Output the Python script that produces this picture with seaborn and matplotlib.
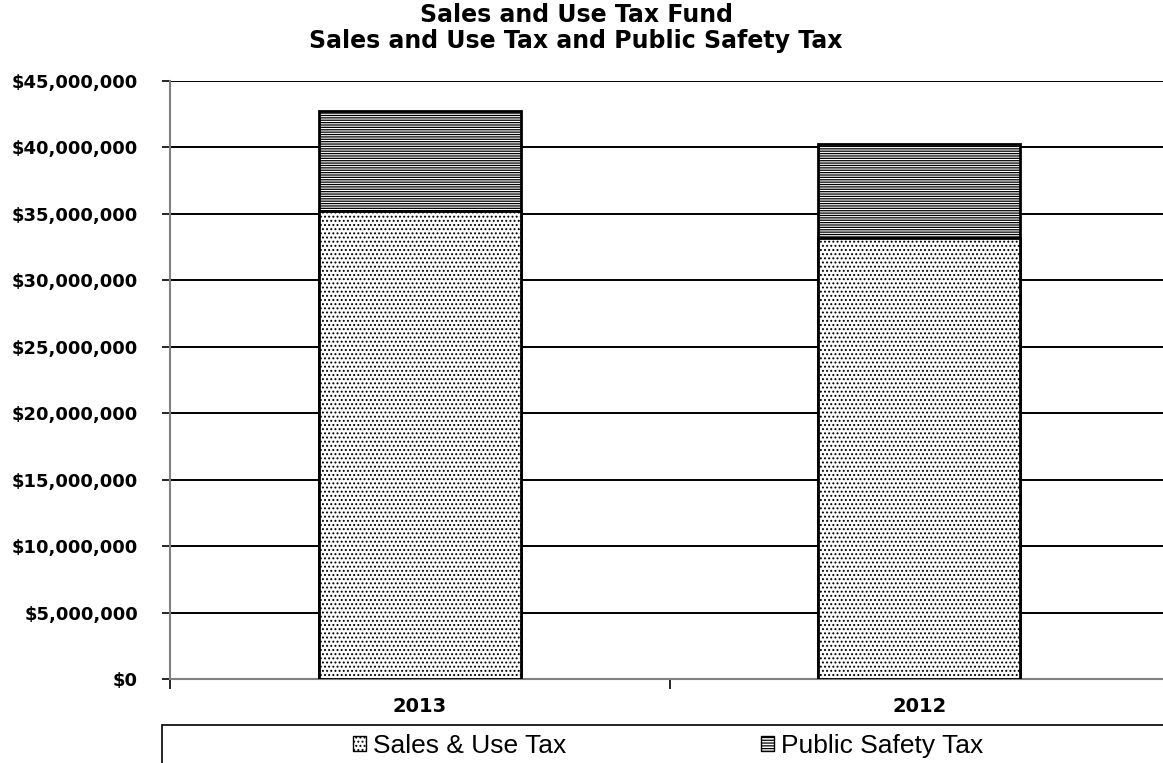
import matplotlib
matplotlib.use("Agg")
import matplotlib.pyplot as plt
import seaborn as sns
import pandas as pd
from matplotlib.patches import Rectangle, Patch
from matplotlib.ticker import FuncFormatter, MultipleLocator

years = ["2013", "2012"]
sales_use_tax = [35200000, 33150000]
public_safety_tax = [7550000, 7100000]
series_names = ["Sales & Use Tax", "Public Safety Tax"]
title_lines = ["Sales and Use Tax Fund", "Sales and Use Tax and Public Safety Tax"]

sns.set_theme(style="white")
plt.rcParams['font.family'] = ['Liberation Sans', 'DejaVu Sans']
plt.rcParams['hatch.linewidth'] = 0.9

W, H = 1163, 763
fig = plt.figure(figsize=(W / 100, H / 100), dpi=100)
ax = fig.add_axes([170 / W, 84 / H, (1169 - 170) / W, (679 - 81) / H])

df = pd.DataFrame({
    "year": years,
    "sales": sales_use_tax,
    "total": [s + p for s, p in zip(sales_use_tax, public_safety_tax)],
})

sns.barplot(data=df, x="year", y="total", order=years, color="white",
            edgecolor="black", linewidth=2, hatch="-------", width=0.405,
            ax=ax, zorder=3)
sns.barplot(data=df, x="year", y="sales", order=years, color="white",
            edgecolor="black", linewidth=2, hatch="....", width=0.405,
            ax=ax, zorder=4)

ax.set_xlim(-0.5, 1.5)
ax.set_ylim(0, 45000000)
ax.yaxis.set_major_locator(MultipleLocator(5000000))
ax.yaxis.set_major_formatter(FuncFormatter(lambda v, p: "${:,.0f}".format(v)))
ax.grid(axis="y", color="black", linewidth=1.4, zorder=0)
ax.set_axisbelow(True)
ax.set_xlabel("")
ax.set_ylabel("")

for s in ["top", "right"]:
    ax.spines[s].set_visible(False)
ax.spines["left"].set_color("#808080")
ax.spines["left"].set_linewidth(1.5)
ax.spines["bottom"].set_color("#808080")
ax.spines["bottom"].set_linewidth(1.5)

ax.tick_params(axis="y", which="major", direction="out", length=6, width=1.2,
               color="black", pad=17, left=True, labelcolor="black")
ax.tick_params(axis="x", which="major", length=0, pad=13, labelcolor="black")
ax.set_xticks([-0.5, 0.5, 1.5], minor=True)
ax.tick_params(axis="x", which="minor", direction="out", length=7, width=1.2,
               color="black", bottom=True)
for lab in ax.get_yticklabels():
    lab.set_fontweight("bold")
    lab.set_family("DejaVu Sans")
    lab.set_fontsize(13)
for lab in ax.get_xticklabels():
    lab.set_fontweight("bold")
    lab.set_family("DejaVu Sans")
    lab.set_fontsize(14)

fig.text(576 / W, 1 - 15 / H, title_lines[0], ha="center", va="center",
         fontsize=17, fontweight="bold", family="DejaVu Sans", color="black")
fig.text(576 / W, 1 - 41 / H, title_lines[1], ha="center", va="center",
         fontsize=17, fontweight="bold", family="DejaVu Sans", color="black")

# legend box
fig.add_artist(Rectangle((162 / W, -0.01), 1.02, (763 - 725) / H + 0.01,
                         transform=fig.transFigure, facecolor="white",
                         edgecolor="black", linewidth=1.2))
handles = [Patch(facecolor="white", edgecolor="black", hatch="...."),
           Patch(facecolor="white", edgecolor="black", hatch="------")]
fig.legend(handles, series_names, loc="center", ncol=2,
           bbox_to_anchor=(668 / W, 1 - 746 / H), frameon=False,
           fontsize=19, handlelength=0.5, handleheight=0.5,
           handletextpad=0.25, columnspacing=7.4, labelcolor="black")

fig.savefig("out.png", dpi=100)
